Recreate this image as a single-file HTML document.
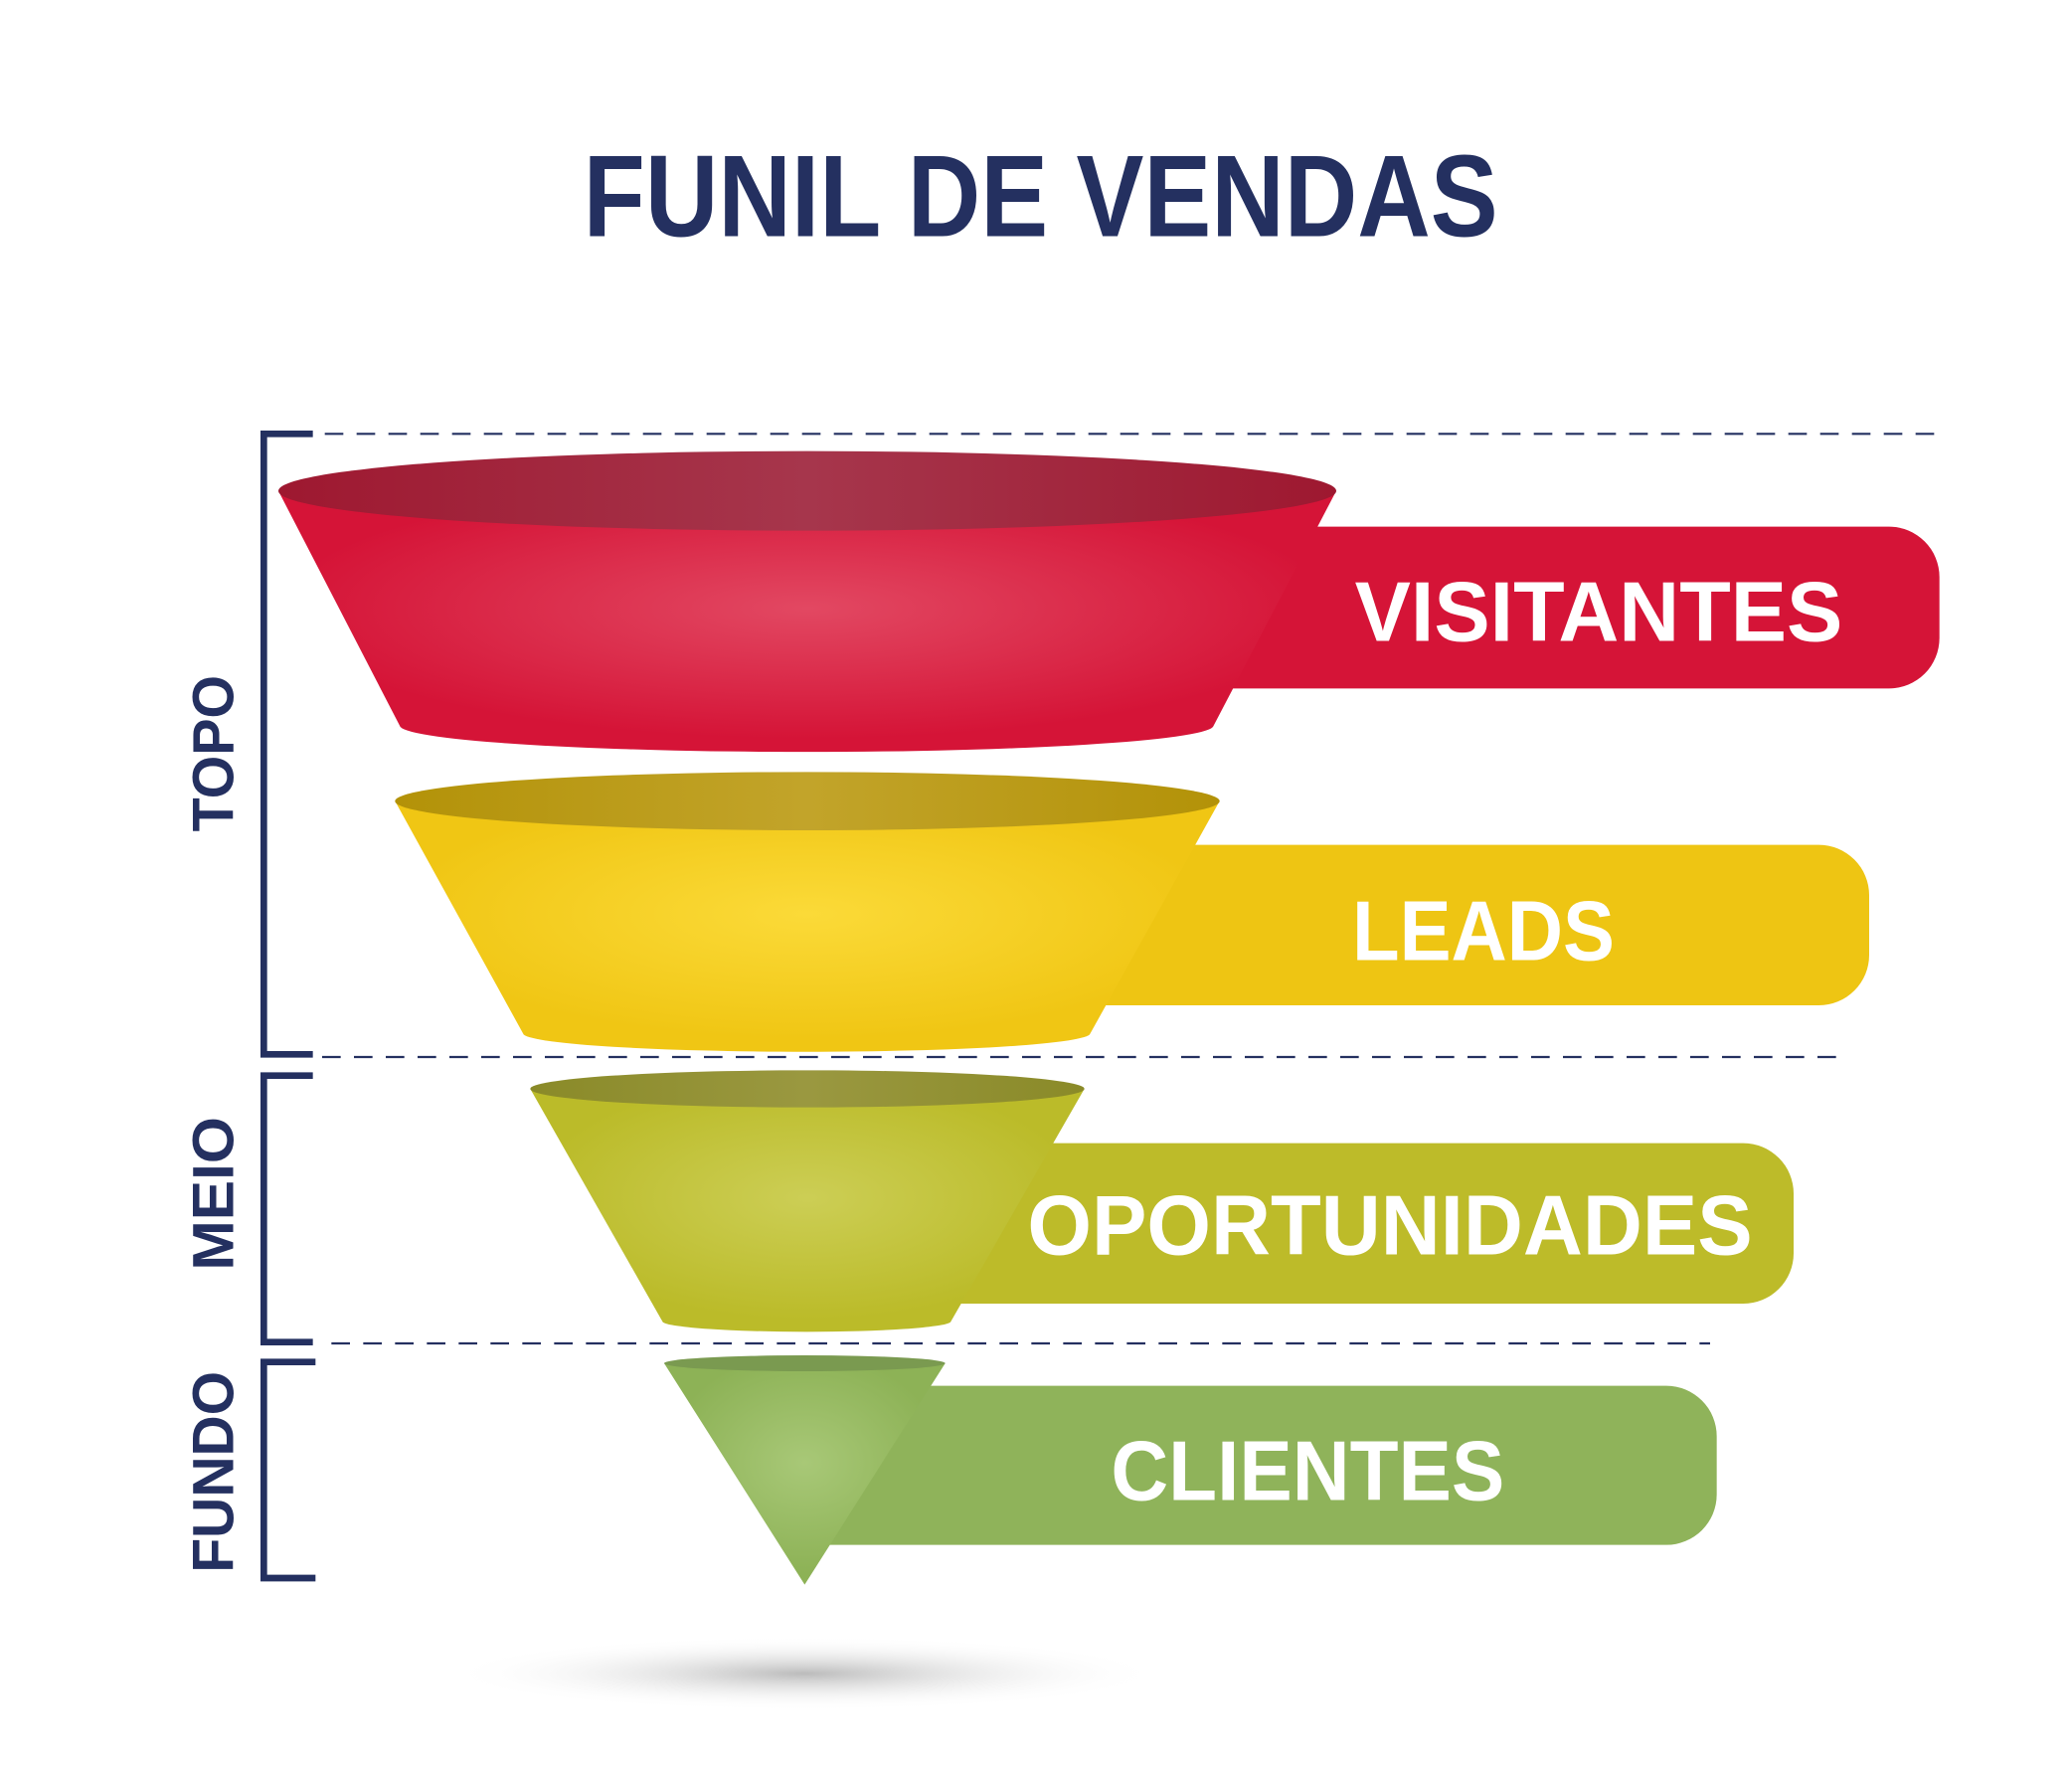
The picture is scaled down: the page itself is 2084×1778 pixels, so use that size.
<!DOCTYPE html>
<html><head><meta charset="utf-8"><style>html,body{margin:0;padding:0;background:#fff}svg{display:block}</style></head>
<body>
<svg width="2084" height="1778" viewBox="0 0 1563 1333" xmlns="http://www.w3.org/2000/svg" font-family="Liberation Sans, sans-serif" font-weight="bold">
<defs>
<radialGradient id="rg" cx="0.5" cy="0.45" r="0.5"><stop offset="0" stop-color="#e24862"/><stop offset="1" stop-color="#d51437"/></radialGradient>
<linearGradient id="rt" x1="0" x2="1"><stop offset="0" stop-color="#9e1830"/><stop offset="0.5" stop-color="#a6364c"/><stop offset="1" stop-color="#9e1830"/></linearGradient>
<radialGradient id="yg" cx="0.5" cy="0.45" r="0.5"><stop offset="0" stop-color="#fbda38"/><stop offset="1" stop-color="#f0c614"/></radialGradient>
<linearGradient id="yt" x1="0" x2="1"><stop offset="0" stop-color="#b39208"/><stop offset="0.5" stop-color="#c2a42a"/><stop offset="1" stop-color="#b39208"/></linearGradient>
<radialGradient id="og" cx="0.5" cy="0.45" r="0.5"><stop offset="0" stop-color="#ccce55"/><stop offset="1" stop-color="#bbbb29"/></radialGradient>
<linearGradient id="ot" x1="0" x2="1"><stop offset="0" stop-color="#8a8a28"/><stop offset="0.5" stop-color="#9a9840"/><stop offset="1" stop-color="#8a8a28"/></linearGradient>
<radialGradient id="gg" cx="0.5" cy="0.45" r="0.5"><stop offset="0" stop-color="#a8c877"/><stop offset="1" stop-color="#8db256"/></radialGradient>
<radialGradient id="sh" cx="0.5" cy="0.5" r="0.5"><stop offset="0" stop-color="#bbb"/><stop offset="1" stop-color="#fff" stop-opacity="0"/></radialGradient>
</defs>
<text x="785" y="178" text-anchor="middle" font-size="88" fill="#243060" textLength="690" lengthAdjust="spacingAndGlyphs">FUNIL DE VENDAS</text>
<g stroke="#243060" stroke-width="1.6" stroke-dasharray="14 10">
<line x1="245" y1="327" x2="1465" y2="327"/><line x1="243" y1="797" x2="1390" y2="797"/><line x1="250" y1="1013" x2="1290" y2="1013"/>
</g>
<g stroke="#243060" stroke-width="5" fill="none">
<polyline points="236,327 199,327 199,795 236,795"/>
<polyline points="236,811 199,811 199,1012 236,1012"/>
<polyline points="238,1027 199,1027 199,1190 238,1190"/>
</g>
<g fill="#243060" font-size="44">
<text transform="translate(176,568) rotate(-90)" text-anchor="middle" textLength="118" lengthAdjust="spacingAndGlyphs">TOPO</text>
<text transform="translate(176,900) rotate(-90)" text-anchor="middle" textLength="116" lengthAdjust="spacingAndGlyphs">MEIO</text>
<text transform="translate(176,1110) rotate(-90)" text-anchor="middle" textLength="152" lengthAdjust="spacingAndGlyphs">FUNDO</text>
</g>
<ellipse cx="607" cy="1262" rx="270" ry="28" fill="url(#sh)"/>
<!-- tabs -->
<path d="M900 397 H1425 A38 38 0 0 1 1463 435 V481 A38 38 0 0 1 1425 519 H900Z" fill="#d51437"/>
<path d="M800 637 H1372 A38 38 0 0 1 1410 675 V720 A38 38 0 0 1 1372 758 H800Z" fill="#eec513"/>
<path d="M700 862 H1315 A38 38 0 0 1 1353 900 V945 A38 38 0 0 1 1315 983 H700Z" fill="#bdbb29"/>
<path d="M600 1045 H1257 A38 38 0 0 1 1295 1083 V1127 A38 38 0 0 1 1257 1165 H600Z" fill="#8fb35a"/>
<!-- funnels -->
<path d="M210 370 L302 548 A307 20 0 0 0 915 548 L1008 370Z" fill="url(#rg)"/>
<ellipse cx="609" cy="370" rx="399" ry="30" fill="url(#rt)"/>
<path d="M298 604 L395 780 A214 14 0 0 0 822 780 L920 604Z" fill="url(#yg)"/>
<ellipse cx="609" cy="604" rx="311" ry="22" fill="url(#yt)"/>
<path d="M400 821 L500 997 A109 8 0 0 0 717 997 L818 821Z" fill="url(#og)"/>
<ellipse cx="609" cy="821" rx="209" ry="14" fill="url(#ot)"/>
<path d="M501 1028 L607 1195 L713 1028Z" fill="url(#gg)"/>
<ellipse cx="607" cy="1028" rx="106" ry="6" fill="#7a9a50"/>
<g fill="#fff" font-size="64">
<text x="1022" y="483" textLength="368" lengthAdjust="spacingAndGlyphs">VISITANTES</text>
<text x="1020" y="724" textLength="198" lengthAdjust="spacingAndGlyphs">LEADS</text>
<text x="775" y="946" textLength="547" lengthAdjust="spacingAndGlyphs">OPORTUNIDADES</text>
<text x="838" y="1131" textLength="297" lengthAdjust="spacingAndGlyphs">CLIENTES</text>
</g>
</svg>
</body></html>
